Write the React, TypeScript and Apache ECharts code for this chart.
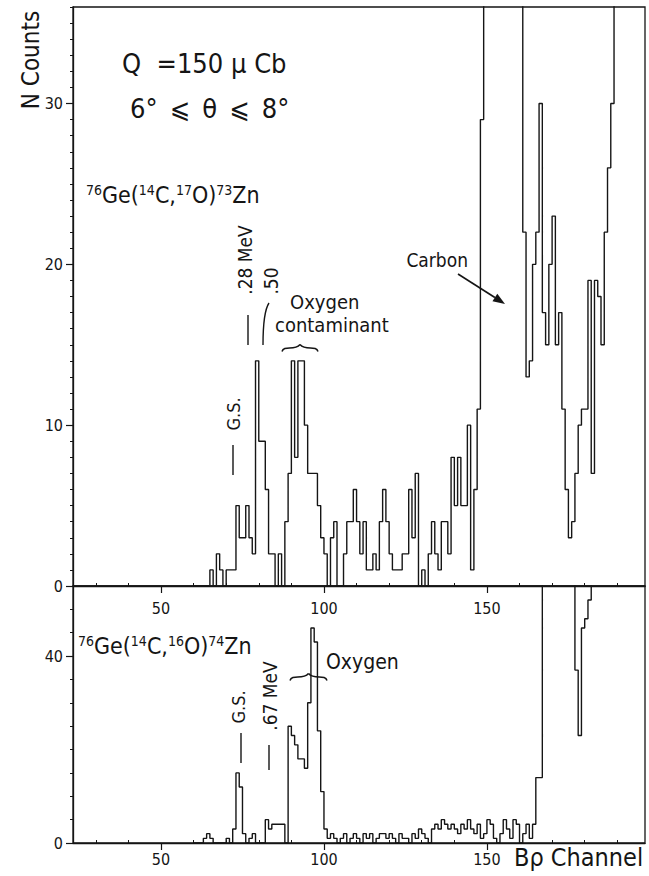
import React, { useEffect, useRef } from "react";
import * as echarts from "echarts";

// ---------- data ----------
const FIRST_CHANNEL = 60;
const X_MIN = 23;
const X_MAX = 198.5;
const TOP_Y_MAX = 36;
const BOTTOM_Y_MAX = 55;

// counts per Bρ channel (bin left edge = FIRST_CHANNEL + index); 60 = off scale
const topCounts = [
  0, 0, 0, 0, 0, 1, 0, 2, 1, 0, // 60-69
  1, 1, 1, 5, 3, 3, 5, 3, 2, 14, // 70-79
  9, 9, 6, 2, 2, 0, 2, 0, 4, 7, // 80-89
  14, 8, 14, 14, 10, 7, 7, 7, 5, 3, // 90-99
  2, 0, 3, 4, 0, 0, 2, 4, 4, 6, // 100-109
  4, 2, 4, 1, 1, 2, 1, 4, 6, 4, // 110-119
  2, 1, 1, 1, 2, 2, 6, 3, 7, 0, // 120-129
  1, 0, 2, 4, 2, 1, 4, 4, 2, 8, // 130-139
  5, 8, 5, 5, 10, 1, 6, 11, 29, 60, // 140-149
  60, 60, 60, 60, 60, 60, 60, 60, 60, 60, // 150-159
  60, 22, 13, 14, 20, 22, 30, 17, 15, 20, // 160-169
  23, 15, 17, 11, 6, 3, 4, 7, 10, 11, // 170-179
  11, 19, 7, 19, 18, 15, 22, 26, 30, 60, // 180-189
  60, 60, 60, 60, 60, 60, 60, 60, 60, // 190-198
];

const bottomCounts = [
  0, 0, 0, 1, 2, 1, 0, 0, 0, 0, // 60-69
  1, 0, 3, 15, 12, 2, 0, 1, 2, 0, // 70-79
  0, 0, 5, 3, 4, 4, 4, 4, 0, 25, // 80-89
  23, 21, 18, 18, 16, 30, 46, 43, 24, 11, // 90-99
  3, 1, 2, 1, 0, 1, 2, 0, 1, 2, // 100-109
  1, 0, 2, 1, 2, 0, 1, 2, 2, 1, // 110-119
  2, 1, 0, 2, 1, 1, 0, 2, 1, 3, // 120-129
  2, 1, 0, 3, 4, 3, 5, 4, 3, 4, // 130-139
  3, 2, 4, 3, 5, 3, 2, 4, 1, 2, // 140-149
  5, 4, 1, 0, 2, 5, 3, 1, 5, 4, // 150-159
  0, 2, 4, 1, 4, 14, 14, 60, 60, 60, // 160-169
  60, 60, 60, 60, 60, 60, 60, 37, 23, 46, // 170-179
  48, 52, 60, 60, 60, 60, 60, 60, 60, 60, // 180-189
  60, 60, 60, 60, 60, 60, 60, 60, 60, // 190-198
];

const xLabelValues = [50, 100, 150];
const xMinorValues = [30, 40, 60, 70, 80, 90, 110, 120, 130, 140, 160, 170, 180, 190];
const topYLabelValues = [0, 10, 20, 30];
const bottomYLabelValues = [0, 40];

// ---------- styling ----------
const INK = "#151515";
const F = "'DejaVu Sans Condensed', 'DejaVu Sans', sans-serif";

function toSteps(counts: number[]) {
  const pts = counts.map((v, i) => [FIRST_CHANNEL + i, v]);
  pts.push([FIRST_CHANNEL + counts.length, counts[counts.length - 1]]);
  return pts;
}

function mainX(grid: number, margin: number) {
  return {
    type: "value",
    gridIndex: grid,
    position: "bottom",
    min: X_MIN,
    max: X_MAX,
    axisLine: { show: true, lineStyle: { color: INK, width: 1.3 } },
    axisTick: { show: true, customValues: xLabelValues, length: 7, lineStyle: { color: INK, width: 1.2 } },
    axisLabel: { show: true, customValues: xLabelValues, margin, fontSize: 16, color: INK, fontFamily: F },
    splitLine: { show: false },
  };
}
function minorX(grid: number) {
  return {
    type: "value",
    gridIndex: grid,
    position: "bottom",
    min: X_MIN,
    max: X_MAX,
    axisLine: { show: false },
    axisTick: { show: true, inside: true, customValues: xMinorValues, length: 3, lineStyle: { color: INK, width: 1 } },
    axisLabel: { show: false },
    splitLine: { show: false },
  };
}
function mainY(grid: number, max: number, labels: number[]) {
  return {
    type: "value",
    gridIndex: grid,
    position: "left",
    min: 0,
    max,
    axisLine: { show: true, lineStyle: { color: INK, width: 1.3 } },
    axisTick: { show: true, customValues: labels, length: 7, lineStyle: { color: INK, width: 1.2 } },
    axisLabel: { show: true, customValues: labels, margin: 10, fontSize: 16, color: INK, fontFamily: F },
    splitLine: { show: false },
  };
}
function minorY(grid: number, max: number, interval: number) {
  return {
    type: "value",
    gridIndex: grid,
    position: "left",
    min: 0,
    max,
    interval,
    axisLine: { show: false },
    axisTick: { show: true, length: 3, lineStyle: { color: INK, width: 1 } },
    axisLabel: { show: false },
    splitLine: { show: false },
  };
}

function rotText(text: string, x: number, y: number, size: number) {
  return {
    type: "text",
    x,
    y,
    rotation: Math.PI / 2,
    silent: true,
    style: { text, fontSize: size, fontFamily: F, fill: INK, align: "center", verticalAlign: "middle" },
  };
}
function plainText(text: string, x: number, y: number, size: number, align = "left") {
  return {
    type: "text",
    x,
    y,
    silent: true,
    style: { text, fontSize: size, fontFamily: F, fill: INK, align, verticalAlign: "middle" },
  };
}
function vline(x: number, y1: number, y2: number) {
  return { type: "line", silent: true, shape: { x1: x, y1, x2: x, y2 }, style: { stroke: INK, lineWidth: 1.4 } };
}
function brace(x1: number, x2: number, y: number) {
  const xm = (x1 + x2) / 2;
  const h = 3.5;
  return [
    {
      type: "bezierCurve",
      silent: true,
      shape: { x1, y1: y + h, cpx1: x1 + 2, cpy1: y - h, cpx2: xm - 6, cpy2: y + h, x2: xm, y2: y - h },
      style: { stroke: INK, lineWidth: 1.5, fill: null },
    },
    {
      type: "bezierCurve",
      silent: true,
      shape: { x1: xm, y1: y - h, cpx1: xm + 6, cpy1: y + h, cpx2: x2 - 2, cpy2: y - h, x2, y2: y + h },
      style: { stroke: INK, lineWidth: 1.5, fill: null },
    },
  ];
}
function reaction(x: number, y: number, a: string, b: string, c: string, d: string) {
  const main = { fontSize: 23, fontFamily: F, fill: INK, verticalAlign: "bottom" };
  const sup = { fontSize: 14, fontFamily: F, fill: INK, verticalAlign: "top" };
  return {
    type: "text",
    x,
    y,
    silent: true,
    style: {
      text: `{s|${a}}{n|Ge(}{s|${b}}{n|C,}{s|${c}}{n|O)}{s|${d}}{n|Zn}`,
      rich: { n: main, s: sup },
      align: "left",
      verticalAlign: "bottom",
    },
  };
}

export default function App() {
  const ref = useRef<HTMLDivElement>(null);
  useEffect(() => {
    if (!ref.current) return;
    const chart = echarts.init(ref.current, undefined, { renderer: "svg" });
    const arrowTail = [458, 274];
    const arrowHead = [505, 304];
    const ang = Math.atan2(arrowHead[1] - arrowTail[1], arrowHead[0] - arrowTail[0]);
    const hl = 12;
    const hw = 4.5;
    const back = [arrowHead[0] - hl * Math.cos(ang), arrowHead[1] - hl * Math.sin(ang)];
    const head = [
      arrowHead,
      [back[0] + hw * Math.sin(ang), back[1] - hw * Math.cos(ang)],
      [back[0] - hw * Math.sin(ang), back[1] + hw * Math.cos(ang)],
    ];

    chart.setOption({
      animation: false,
      backgroundColor: "#ffffff",
      grid: [
        { left: 73, right: 4, top: 7, height: 579, show: true, borderColor: INK, borderWidth: 1.3, backgroundColor: "transparent" },
        { left: 73, right: 4, top: 586, height: 257, show: true, borderColor: INK, borderWidth: 1.3, backgroundColor: "transparent" },
      ],
      xAxis: [mainX(0, 14), minorX(0), mainX(1, 8), minorX(1)],
      yAxis: [
        mainY(0, TOP_Y_MAX, topYLabelValues),
        minorY(0, TOP_Y_MAX, 1),
        mainY(1, BOTTOM_Y_MAX, bottomYLabelValues),
        minorY(1, BOTTOM_Y_MAX, 5),
      ],
      series: [
        {
          type: "line",
          xAxisIndex: 0,
          yAxisIndex: 0,
          data: toSteps(topCounts),
          step: "end",
          symbol: "none",
          silent: true,
          clip: true,
          lineStyle: { color: INK, width: 1.4 },
        },
        {
          type: "line",
          xAxisIndex: 2,
          yAxisIndex: 2,
          data: toSteps(bottomCounts),
          step: "end",
          symbol: "none",
          silent: true,
          clip: true,
          lineStyle: { color: INK, width: 1.4 },
        },
      ],
      graphic: {
        elements: [
          rotText("N Counts", 31, 60, 24),
          plainText("Q  =150 μ Cb", 122, 63, 27),
          plainText("6°\u2002⩽\u2002θ\u2002⩽\u20028°", 130, 108, 27),
          reaction(86, 206, "76", "14", "17", "73"),
          reaction(78, 657, "76", "14", "16", "74"),
          // top panel annotations
          rotText("G.S.", 233, 414, 18),
          vline(233, 445, 475),
          rotText(".28 MeV", 245, 260, 19),
          vline(248, 315, 345),
          rotText(".50", 271, 281, 19),
          {
            type: "bezierCurve",
            silent: true,
            shape: { x1: 269, y1: 303, cpx1: 263, cpy1: 312, x2: 263, y2: 345 },
            style: { stroke: INK, lineWidth: 1.4, fill: null },
          },
          plainText("Oxygen", 290, 302, 20),
          plainText("contaminant", 275, 325, 20),
          ...brace(282, 318, 348),
          plainText("Carbon", 468, 260, 19, "right"),
          {
            type: "line",
            silent: true,
            shape: { x1: arrowTail[0], y1: arrowTail[1], x2: back[0], y2: back[1] },
            style: { stroke: INK, lineWidth: 1.6 },
          },
          { type: "polygon", silent: true, shape: { points: head }, style: { fill: INK } },
          // bottom panel annotations
          rotText("G.S.", 238, 707, 18),
          vline(241, 733, 763),
          rotText(".67 MeV", 270, 696, 19),
          vline(269, 745, 770),
          plainText("Oxygen", 326, 662, 21),
          ...brace(290, 327, 677),
          plainText("Bρ Channel", 514, 857, 25),
        ],
      },
    });
    return () => chart.dispose();
  }, []);
  return (
    <div
      ref={ref}
      style={{ position: "fixed", left: 0, top: 0, width: 649, height: 876, background: "#fff" }}
    />
  );
}
